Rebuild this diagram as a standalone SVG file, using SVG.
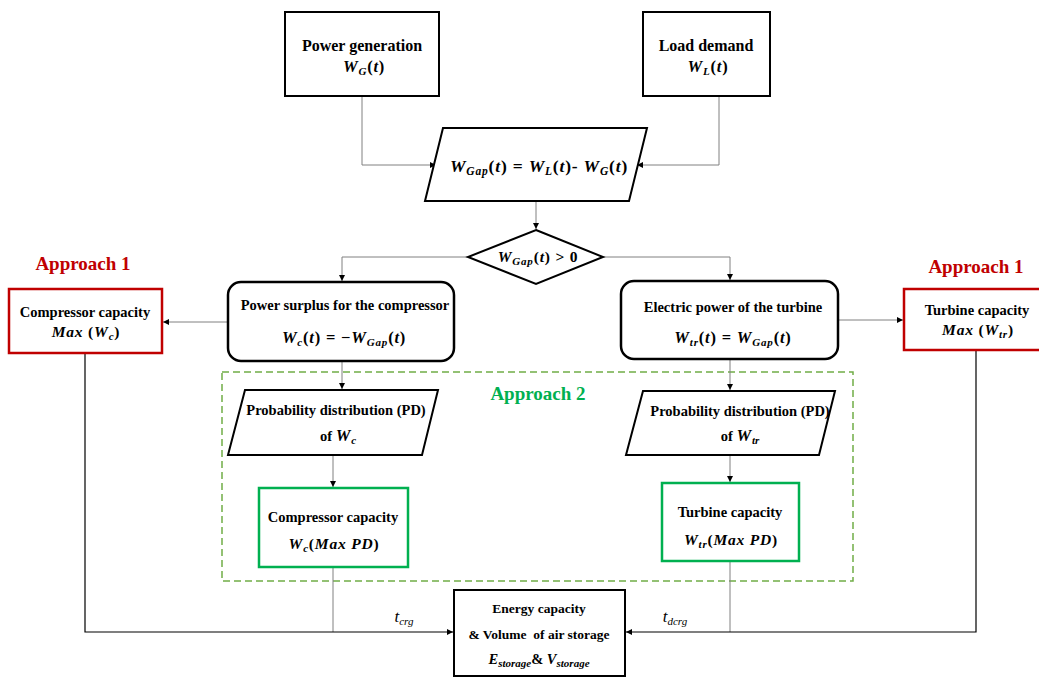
<svg xmlns="http://www.w3.org/2000/svg" width="1039" height="678" viewBox="0 0 1039 678">
<style>
.t{font-family:"Liberation Serif","Times New Roman",serif;font-weight:bold;font-size:14.5px;fill:#000;text-anchor:middle}
.big{font-size:16px}
.f{font-size:16.5px;letter-spacing:0.8px}
.m{font-style:italic}
.s{font-size:11px}
.box{fill:#fff;stroke:#000;stroke-width:2}
.red{fill:#fff;stroke:#c00000;stroke-width:2.5}
.grn{fill:#fff;stroke:#00b050;stroke-width:2.5}
.ap1{font-family:"Liberation Serif","Times New Roman",serif;font-weight:bold;font-size:19px;fill:#c00000;text-anchor:middle}
.ap2{font-family:"Liberation Serif","Times New Roman",serif;font-weight:bold;font-size:19px;fill:#00b050;text-anchor:middle}
.c{fill:none;stroke:#808080;stroke-width:1}
.k{fill:none;stroke:#000;stroke-width:1.2}
.tl{font-family:"Liberation Serif","Times New Roman",serif;font-style:italic;font-size:17px;fill:#000;text-anchor:middle}
</style>
<defs>
<marker id="ar" markerWidth="7" markerHeight="7" refX="6" refY="3" orient="auto" markerUnits="userSpaceOnUse">
<path d="M0,0 L6,3 L0,6 Z" fill="#000"/>
</marker>
</defs>
<rect width="1039" height="678" fill="#fff"/>

<g id="dashed-region">
<rect x="222" y="372" width="631" height="209" fill="none" stroke="#70ad47" stroke-width="1.5" stroke-dasharray="7,4"/>
<text class="ap2" x="538" y="400">Approach 2</text>
</g>

<g id="connectors">
<path class="c" d="M362,96 V165 H436" marker-end="url(#ar)"/>
<path class="c" d="M719,96 V165 H637" marker-end="url(#ar)"/>
<path class="c" d="M536,201 V229" marker-end="url(#ar)"/>
<path class="c" d="M468,257 H342 V281" marker-end="url(#ar)"/>
<path class="c" d="M603,257 H730 V280" marker-end="url(#ar)"/>
<path class="c" d="M228,322 H163" marker-end="url(#ar)"/>
<path class="c" d="M838,320 H903" marker-end="url(#ar)"/>
<path class="c" d="M342,361 V389" marker-end="url(#ar)"/>
<path class="c" d="M333,455 V487" marker-end="url(#ar)"/>
<path class="c" d="M730,359 V390" marker-end="url(#ar)"/>
<path class="c" d="M730,455 V482" marker-end="url(#ar)"/>
<path class="c" d="M333,567 V632"/>
<path class="c" d="M730,561 V632"/>
<path class="k" d="M85,353 V632 H453" marker-end="url(#ar)"/>
<path class="k" d="M976,350 V632 H626" marker-end="url(#ar)"/>
<text class="tl" x="404" y="622">t<tspan class="s" dy="3">crg</tspan></text>
<text class="tl" x="675" y="622">t<tspan class="s" dy="3">dcrg</tspan></text>
</g>

<g id="power-generation">
<rect class="box" x="285" y="12" width="154" height="84"/>
<text class="t big" x="362" y="51">Power generation</text>
<text class="t f" x="364" y="72"><tspan class="m">W</tspan><tspan class="m s" dy="3">G</tspan><tspan dy="-3">(</tspan><tspan class="m">t</tspan>)</text>
</g>

<g id="load-demand">
<rect class="box" x="643" y="12" width="127" height="84"/>
<text class="t big" x="706" y="51">Load demand</text>
<text class="t f" x="708" y="72"><tspan class="m">W</tspan><tspan class="m s" dy="3">L</tspan><tspan dy="-3">(</tspan><tspan class="m">t</tspan>)</text>
</g>

<g id="gap">
<polygon class="box" points="443,128 647,128 629,201 425,201"/>
<text class="t f" x="539" y="172" style="font-size:17.5px"><tspan class="m">W</tspan><tspan class="m" style="font-size:11.5px" dy="3">Gap</tspan><tspan dy="-3">(</tspan><tspan class="m">t</tspan>) = <tspan class="m">W</tspan><tspan class="m" style="font-size:11.5px" dy="3">L</tspan><tspan dy="-3">(</tspan><tspan class="m">t</tspan>)- <tspan class="m">W</tspan><tspan class="m" style="font-size:11.5px" dy="3">G</tspan><tspan dy="-3">(</tspan><tspan class="m">t</tspan>)</text>
</g>

<g id="decision">
<polygon class="box" points="536,230 603,257 536,284 468,257"/>
<text class="t f" x="538" y="262" style="font-size:15.5px"><tspan class="m">W</tspan><tspan class="m s" dy="3">Gap</tspan><tspan dy="-3">(</tspan><tspan class="m">t</tspan>) &gt; 0</text>
</g>

<g id="power-surplus">
<rect class="box" x="228" y="282" width="226" height="79" rx="13" ry="13" style="stroke-width:2.5"/>
<text class="t" x="345" y="310">Power surplus for the compressor</text>
<text class="t f" x="344" y="343"><tspan class="m">W</tspan><tspan class="m s" dy="3">c</tspan><tspan dy="-3">(</tspan><tspan class="m">t</tspan>) = −<tspan class="m">W</tspan><tspan class="m s" dy="3">Gap</tspan><tspan dy="-3">(</tspan><tspan class="m">t</tspan>)</text>
</g>

<g id="electric-power">
<rect class="box" x="621" y="281" width="217" height="78" rx="13" ry="13" style="stroke-width:2.5"/>
<text class="t" x="733" y="312">Electric power of the turbine</text>
<text class="t f" x="733" y="343"><tspan class="m">W</tspan><tspan class="m s" dy="3">tr</tspan><tspan dy="-3">(</tspan><tspan class="m">t</tspan>) = <tspan class="m">W</tspan><tspan class="m s" dy="3">Gap</tspan><tspan dy="-3">(</tspan><tspan class="m">t</tspan>)</text>
</g>

<g id="compressor-max">
<text class="ap1" x="83" y="270">Approach 1</text>
<rect class="red" x="9" y="289" width="153" height="64"/>
<text class="t" x="85" y="317">Compressor capacity</text>
<text class="t f" x="86" y="337" style="font-size:15.5px"><tspan class="m">Max</tspan> (<tspan class="m">W</tspan><tspan class="m s" dy="3">c</tspan><tspan dy="-3">)</tspan></text>
</g>

<g id="turbine-max">
<text class="ap1" x="976" y="273">Approach 1</text>
<rect class="red" x="904" y="289" width="140" height="61"/>
<text class="t" x="977" y="315">Turbine capacity</text>
<text class="t f" x="978" y="335" style="font-size:15.5px"><tspan class="m">Max</tspan> (<tspan class="m">W</tspan><tspan class="m s" dy="3">tr</tspan><tspan dy="-3">)</tspan></text>
</g>

<g id="pd-compressor">
<polygon class="box" points="245,390 438,390 422,455 228,455"/>
<text class="t" x="336" y="415">Probability distribution (PD)</text>
<text class="t" x="338" y="441">of <tspan class="m f">W</tspan><tspan class="m s" dy="3">c</tspan></text>
</g>

<g id="pd-turbine">
<polygon class="box" points="643,391 835,391 819,455 626,455"/>
<text class="t" x="740" y="416">Probability distribution (PD)</text>
<text class="t" x="740" y="441">of <tspan class="m f">W</tspan><tspan class="m s" dy="3">tr</tspan></text>
</g>

<g id="compressor-pd">
<rect class="grn" x="259" y="488" width="149" height="79"/>
<text class="t" x="333" y="522">Compressor capacity</text>
<text class="t f" x="334" y="549" style="font-size:15.5px"><tspan class="m">W</tspan><tspan class="m s" dy="3">c</tspan><tspan dy="-3">(</tspan><tspan class="m">Max PD</tspan>)</text>
</g>

<g id="turbine-pd">
<rect class="grn" x="662" y="483" width="137" height="78"/>
<text class="t" x="730" y="517">Turbine capacity</text>
<text class="t f" x="731" y="545" style="font-size:15.5px"><tspan class="m">W</tspan><tspan class="m s" dy="3">tr</tspan><tspan dy="-3">(</tspan><tspan class="m">Max PD</tspan>)</text>
</g>

<g id="storage">
<rect class="box" x="454" y="590" width="171" height="86"/>
<text class="t" x="539" y="613" style="font-size:13.5px">Energy capacity</text>
<text class="t" x="539" y="639" style="font-size:13.5px" xml:space="preserve">&amp; Volume  of air storage</text>
<text class="t" x="539" y="664" style="font-size:14.5px"><tspan class="m">E</tspan><tspan class="m s" dy="3">storage</tspan><tspan dy="-3">&amp;</tspan> <tspan class="m">V</tspan><tspan class="m s" dy="3">storage</tspan></text>
</g>
</svg>
